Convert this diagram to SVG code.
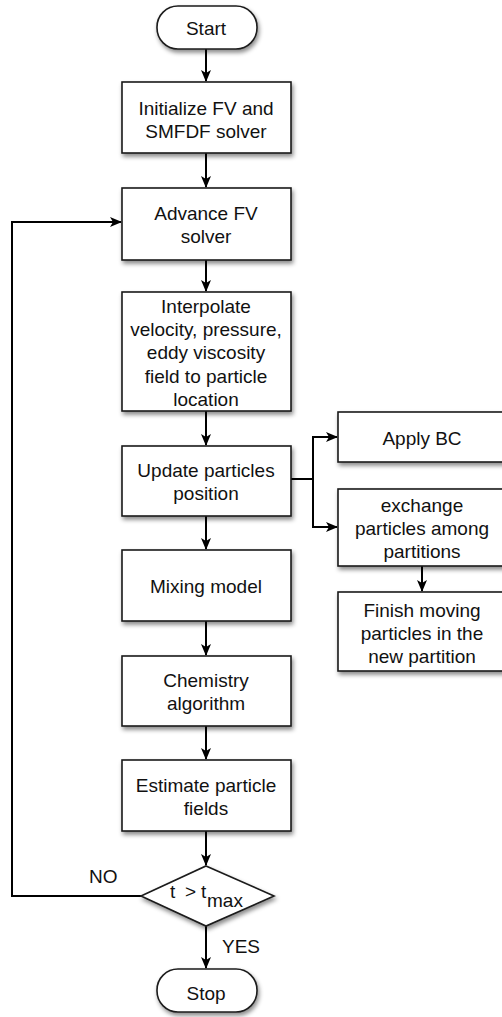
<svg xmlns="http://www.w3.org/2000/svg" width="502" height="1017" viewBox="0 0 502 1017">
<style>
.box{fill:#fff;stroke:#1a1a1a;stroke-width:1.6;filter:url(#sh)}
.t{font-family:"Liberation Sans",Arial,sans-serif;font-size:19px;fill:#111;text-anchor:middle}
.l{font-family:"Liberation Sans",Arial,sans-serif;font-size:19px;fill:#111}
.c{fill:none;stroke:#000;stroke-width:2}
</style>
<defs>
<filter id="sh" x="-20%" y="-20%" width="140%" height="150%">
<feDropShadow dx="1.5" dy="3" stdDeviation="2" flood-color="#000" flood-opacity="0.45"/>
</filter>
<marker id="ar" viewBox="0 0 12 10" refX="11" refY="5" markerWidth="12" markerHeight="10" markerUnits="userSpaceOnUse" orient="auto">
<path d="M0,0 L12,5 L0,10 L3,5 z" fill="#000"/>
</marker>
</defs>
<g id="connectors">
<line class="c" x1="206" y1="49" x2="206" y2="81" marker-end="url(#ar)"/>
<line class="c" x1="206" y1="153" x2="206" y2="187" marker-end="url(#ar)"/>
<line class="c" x1="206" y1="260" x2="206" y2="291" marker-end="url(#ar)"/>
<line class="c" x1="206" y1="411" x2="206" y2="445" marker-end="url(#ar)"/>
<line class="c" x1="206" y1="516" x2="206" y2="549" marker-end="url(#ar)"/>
<line class="c" x1="206" y1="621" x2="206" y2="655" marker-end="url(#ar)"/>
<line class="c" x1="206" y1="726" x2="206" y2="759" marker-end="url(#ar)"/>
<line class="c" x1="206" y1="831" x2="206" y2="865" marker-end="url(#ar)"/>
<line class="c" x1="206" y1="926" x2="206" y2="968" marker-end="url(#ar)"/>
<polyline class="c" points="141,896 12,896 12,222 121,222" marker-end="url(#ar)"/>
<polyline class="c" points="291,479 313,479 313,437 337,437" marker-end="url(#ar)"/>
<polyline class="c" points="313,479 313,527 337,527" marker-end="url(#ar)"/>
<line class="c" x1="422" y1="566" x2="422" y2="591" marker-end="url(#ar)"/>
<text class="l" x="89" y="883">NO</text>
<text class="l" x="222" y="953">YES</text>
</g>
<g id="start">
<rect class="box" x="157" y="6" width="100" height="43" rx="21" ry="21"/>
<text class="t" x="206" y="35">Start</text>
</g>
<g id="init">
<rect class="box" x="122" y="82" width="169" height="71"/>
<text class="t" x="206" y="115">Initialize FV and</text>
<text class="t" x="206" y="138">SMFDF solver</text>
</g>
<g id="advance">
<rect class="box" x="122" y="188" width="169" height="72"/>
<text class="t" x="206" y="220">Advance FV</text>
<text class="t" x="206" y="243">solver</text>
</g>
<g id="interpolate">
<rect class="box" x="122" y="292" width="169" height="119"/>
<text class="t" x="206" y="313">Interpolate</text>
<text class="t" x="206" y="336">velocity, pressure,</text>
<text class="t" x="206" y="359">eddy viscosity</text>
<text class="t" x="206" y="383">field to particle</text>
<text class="t" x="206" y="406">location</text>
</g>
<g id="update">
<rect class="box" x="122" y="446" width="169" height="70"/>
<text class="t" x="206" y="477">Update particles</text>
<text class="t" x="206" y="500">position</text>
</g>
<g id="applybc">
<rect class="box" x="338" y="412" width="169" height="50"/>
<text class="t" x="422" y="445">Apply BC</text>
</g>
<g id="exchange">
<rect class="box" x="338" y="489" width="169" height="77"/>
<text class="t" x="422" y="512">exchange</text>
<text class="t" x="422" y="535">particles among</text>
<text class="t" x="422" y="558">partitions</text>
</g>
<g id="finish">
<rect class="box" x="338" y="592" width="169" height="79"/>
<text class="t" x="422" y="617">Finish moving</text>
<text class="t" x="422" y="640">particles in the</text>
<text class="t" x="422" y="663">new partition</text>
</g>
<g id="mixing">
<rect class="box" x="122" y="550" width="169" height="71"/>
<text class="t" x="206" y="593">Mixing model</text>
</g>
<g id="chemistry">
<rect class="box" x="122" y="656" width="169" height="70"/>
<text class="t" x="206" y="687">Chemistry</text>
<text class="t" x="206" y="710">algorithm</text>
</g>
<g id="estimate">
<rect class="box" x="122" y="760" width="169" height="71"/>
<text class="t" x="206" y="792">Estimate particle</text>
<text class="t" x="206" y="815">fields</text>
</g>
<g id="decision">
<polygon class="box" points="206,866 274,896 206,926 141,896"/>
<text class="l" y="898"><tspan x="170">t</tspan><tspan x="185">&gt;</tspan><tspan x="201">t</tspan><tspan x="207" dy="9">max</tspan></text>
</g>
<g id="stop">
<rect class="box" x="157" y="969" width="100" height="43" rx="21" ry="21"/>
<text class="t" x="206" y="1000">Stop</text>
</g>
</svg>
